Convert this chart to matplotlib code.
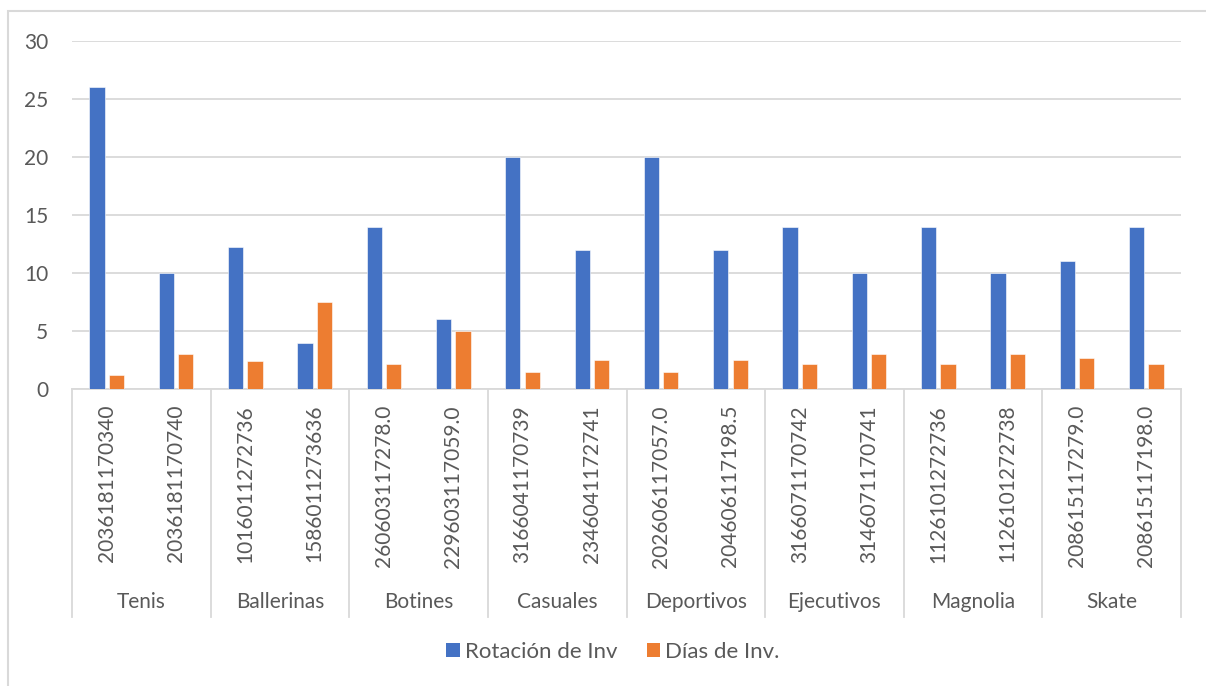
import matplotlib
matplotlib.use("Agg")
import matplotlib.pyplot as plt
from matplotlib.patches import Patch, Rectangle
import numpy as np

plt.rcParams['font.family'] = ['Lato', 'DejaVu Sans']

# datos
grupos = ["Tenis", "Ballerinas", "Botines", "Casuales", "Deportivos",
          "Ejecutivos", "Magnolia", "Skate"]
codigos = ["2036181170340", "2036181170740",
           "1016011272736", "1586011273636",
           "260603117278.0", "229603117059.0",
           "3166041170739", "2346041172741",
           "202606117057.0", "204606117198.5",
           "3166071170742", "3146071170741",
           "1126101272736", "1126101272738",
           "208615117279.0", "208615117198.0"]
rotacion = [26, 10, 12.2, 4, 14, 6, 20, 12, 20, 12, 14, 10, 14, 10, 11, 14]
dias = [1.2, 3, 2.45, 7.5, 2.15, 5, 1.5, 2.5, 1.5, 2.5, 2.15, 3, 2.15, 3, 2.7, 2.15]

azul = "#4472C4"
naranja = "#ED7D31"
gris_txt = "#595959"
gris_lin = "#D9D9D9"

W, H = 1206, 686
fig = plt.figure(figsize=(W / 100, H / 100), dpi=100)
ax = fig.add_axes([72 / W, 1 - 389 / H, (1181 - 72) / W, (389 - 41) / H])

x = np.arange(len(codigos))
ax.bar(x - 0.14, rotacion, width=0.22, color=azul, edgecolor="white", linewidth=0.4, zorder=3)
ax.bar(x + 0.14, dias, width=0.22, color=naranja, edgecolor="white", linewidth=0.4, zorder=3)

ax.set_xlim(-0.5, len(codigos) - 0.5)
ax.set_ylim(0, 30)
ax.set_yticks(range(0, 31, 5))
ax.yaxis.grid(True, color=gris_lin, linewidth=1.3, zorder=0)
ax.tick_params(axis="y", length=0, pad=17, labelsize=15, labelcolor=gris_txt)
ax.set_xticks([])
for s in ["top", "right", "left"]:
    ax.spines[s].set_visible(False)
ax.spines["bottom"].set_color(gris_lin)
ax.spines["bottom"].set_linewidth(1.3)

trans = ax.get_xaxis_transform()
y_sep = (389 - 617) / (389 - 41)
y_cod = (389 - 405) / (389 - 41)
y_grp = (389 - 602) / (389 - 41)

# etiquetas de codigo
for i, c in enumerate(codigos):
    ax.text(i, y_cod, c, transform=trans, rotation=90, ha="center", va="top",
            fontsize=15, color=gris_txt)

# separadores y nombres de grupo
n = 2
for g in range(len(grupos) + 1):
    xs = g * n - 0.5
    ax.plot([xs, xs], [0, y_sep], transform=trans, color=gris_lin,
            linewidth=1.3, clip_on=False)
for g, nombre in enumerate(grupos):
    ax.text(g * n + (n - 1) / 2, y_grp, nombre, transform=trans, ha="center",
            va="center", fontsize=15, color=gris_txt)

# borde del area del grafico
fig.add_artist(Rectangle((8 / W, -0.1), 1.2, 1 - 11 / H + 0.1, transform=fig.transFigure,
                         fill=False, edgecolor=gris_lin, linewidth=1.5))

handles = [Patch(facecolor=azul, label="Rotación de Inv"),
           Patch(facecolor=naranja, label="Días de Inv.")]
fig.legend(handles=handles, loc="center", bbox_to_anchor=(613 / W, 1 - 652 / H),
           ncol=2, frameon=False, fontsize=16, handlelength=0.6, handleheight=0.6,
           handletextpad=0.25, columnspacing=1.3, labelcolor=gris_txt)

fig.savefig("out.png", dpi=100)
